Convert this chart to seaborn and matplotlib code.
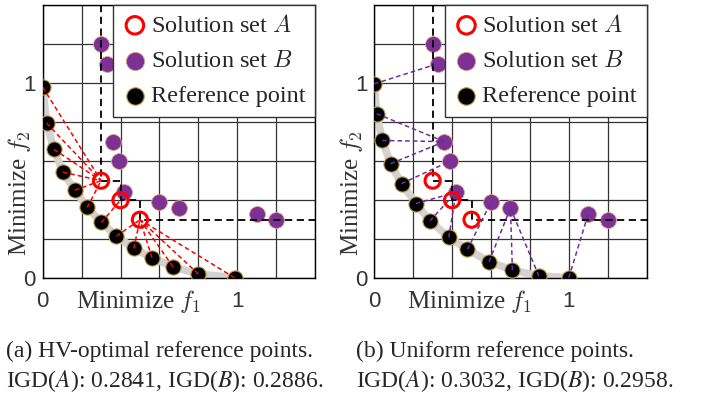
import numpy as np
import pandas as pd
import matplotlib
matplotlib.use("Agg")
import matplotlib.pyplot as plt
import seaborn as sns

# ---------------------------------------------------------------
# Data
# ---------------------------------------------------------------
# solution sets (same in both panels)
A_f1 = [0.30, 0.40, 0.50]
A_f2 = [0.50, 0.40, 0.30]
B_f1 = [0.30, 0.33, 0.36, 0.39, 0.42, 0.60, 0.70, 1.10, 1.20]
B_f2 = [1.20, 1.10, 0.70, 0.60, 0.44, 0.39, 0.36, 0.33, 0.30]

# (a) HV-optimal reference points
hv_f1 = [0.000, 0.020, 0.058, 0.103, 0.165, 0.229, 0.302, 0.379, 0.468, 0.562, 0.670, 0.800, 0.986]
hv_f2 = [0.979, 0.795, 0.660, 0.544, 0.451, 0.363, 0.286, 0.216, 0.153, 0.105, 0.059, 0.022, 0.003]

# (b) uniform reference points
uni_f1 = [0.000, 0.012, 0.041, 0.084, 0.140, 0.214, 0.286, 0.383, 0.479, 0.590, 0.710, 0.846, 1.000]
uni_f2 = [0.996, 0.843, 0.706, 0.587, 0.485, 0.383, 0.294, 0.209, 0.148, 0.085, 0.042, 0.012, 0.003]

captions = [
    ["(a) HV-optimal reference points.", "IGD($A$): 0.2841, IGD($B$): 0.2886."],
    ["(b) Uniform reference points.", "IGD($A$): 0.3032, IGD($B$): 0.2958."],
]

LIM = 1.4
ticks = [0, 0.2, 0.4, 0.6, 0.8, 1.0, 1.2, 1.4]
tick_labels = ["0", "", "", "", "", "1", "", ""]

PURPLE = "#7b3294"
LINE_PURPLE = "#6a2fa0"

sns.set_theme(style="white")
plt.rcParams["font.family"] = ["Liberation Serif", "DejaVu Serif"]
plt.rcParams["mathtext.fontset"] = "cm"


def nearest_links(ref_x, ref_y, sol_x, sol_y):
    # one segment from every reference point to its closest solution
    ref = np.column_stack([ref_x, ref_y])
    sol = np.column_stack([sol_x, sol_y])
    rows = []
    for i, p in enumerate(ref):
        j = np.argmin(((sol - p) ** 2).sum(axis=1))
        rows.append({"seg": i, "x": p[0], "y": p[1]})
        rows.append({"seg": i, "x": sol[j, 0], "y": sol[j, 1]})
    return pd.DataFrame(rows)


def attainment_steps(sol_x, sol_y):
    # staircase of the region dominated by the solution set
    xs, ys = [sol_x[0]], [LIM]
    for k in range(len(sol_x)):
        xs.append(sol_x[k])
        ys.append(sol_y[k])
        nx = sol_x[k + 1] if k + 1 < len(sol_x) else LIM
        xs.append(nx)
        ys.append(sol_y[k])
    return pd.DataFrame({"x": xs, "y": ys})


fig = plt.figure(figsize=(7.07, 3.94), dpi=100)
axes = [fig.add_axes([0.0604, 0.2937, 0.3852, 0.6937]),
        fig.add_axes([0.5294, 0.2937, 0.3852, 0.6937])]

panels = [(hv_f1, hv_f2, A_f1, A_f2, "red"),
          (uni_f1, uni_f2, B_f1, B_f2, LINE_PURPLE)]

for ax, (rx, ry, sx, sy, lcol), cap, cx in zip(axes, panels, captions, [6, 356]):
    # Pareto front
    sns.lineplot(x=rx, y=ry, sort=False, estimator=None, color="#d3d3d3", lw=5.5,
                 ax=ax, zorder=2)

    # dominated-region staircase of A
    st = attainment_steps(A_f1, A_f2)
    sns.lineplot(data=st, x="x", y="y", sort=False, estimator=None, color="black",
                 lw=1.3, ls=(0, (4, 2.5)), ax=ax, zorder=3)

    sns.scatterplot(x=B_f1, y=B_f2, s=130, color=PURPLE, edgecolor="#e0a080",
                    linewidth=0.6, ax=ax, zorder=2.5, label="Solution set $B$")
    sns.scatterplot(x=rx, y=ry, s=120, color="black", edgecolor="#c8a050",
                    linewidth=0.8, ax=ax, zorder=4, label="Reference point")

    links = nearest_links(rx, ry, sx, sy)
    sns.lineplot(data=links, x="x", y="y", units="seg", estimator=None, sort=False,
                 color=lcol, lw=1.1, ls=(0, (3, 2)), ax=ax, zorder=5)

    sns.scatterplot(x=A_f1, y=A_f2, s=120, facecolor="none", edgecolor="red",
                    linewidth=2.2, ax=ax, zorder=6, label="Solution set $A$")

    ax.set_xlim(0, LIM)
    ax.set_ylim(0, LIM)
    ax.set_xticks(ticks)
    ax.set_yticks(ticks)
    ax.set_xticklabels(tick_labels, family="Liberation Sans", fontsize=16, color="#333333")
    ax.set_yticklabels(tick_labels, family="Liberation Sans", fontsize=16, color="#333333")
    ax.tick_params(axis="both", length=0)
    ax.tick_params(axis="x", pad=9)
    ax.tick_params(axis="y", pad=5)
    ax.grid(True, color="#333333", lw=0.9)
    ax.set_axisbelow(True)
    for sp in ax.spines.values():
        sp.set_color("black")
        sp.set_linewidth(1.0)

    ax.set_xlabel("Minimize $f_1$", fontsize=18, color="#333333")
    ax.set_ylabel("Minimize $f_2$", fontsize=18, color="#333333")
    ax.xaxis.set_label_coords(0.35, -0.035)
    ax.yaxis.set_label_coords(-0.035, 0.31)

    handles, labels = ax.get_legend_handles_labels()
    order = [labels.index("Solution set $A$"), labels.index("Solution set $B$"),
             labels.index("Reference point")]
    leg = ax.legend([handles[i] for i in order], [labels[i] for i in order],
                    loc="upper right", bbox_to_anchor=(1, 1), borderaxespad=0,
                    fontsize=17.5, handlelength=1.0, handletextpad=0.15,
                    labelspacing=0.55, borderpad=0.4, fancybox=False,
                    framealpha=1, edgecolor="#333333", scatterpoints=1,
                    markerscale=1.15)
    leg.get_frame().set_linewidth(1.0)
    leg.set_zorder(10)

    fig.text(cx / 707, 1 - 356.7 / 394, cap[0], fontsize=17, va="baseline",
             ha="left", math_fontfamily="stix")
    fig.text(cx / 707, 1 - 386.7 / 394, cap[1], fontsize=17, va="baseline",
             ha="left", math_fontfamily="stix")

fig.savefig("out.png", dpi=100)
